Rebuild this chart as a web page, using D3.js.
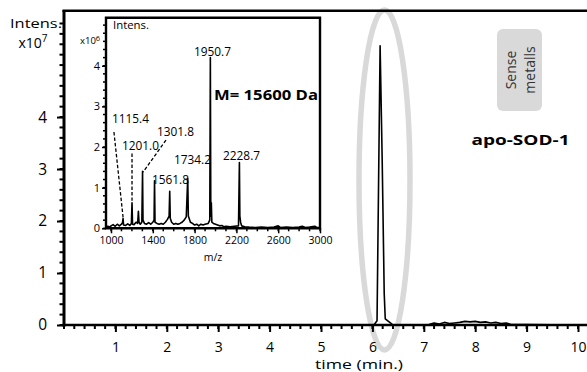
<!DOCTYPE html>
<html>
<head>
<meta charset="utf-8">
<script src="https://cdn.jsdelivr.net/npm/d3@7"></script>
<style>
  html, body { margin: 0; padding: 0; background: #fff; }
  svg { display: block; font-family: "Open Sans", Lato, sans-serif; }
</style>
</head>
<body>
<svg id="chart" width="587" height="372"></svg>
<script>
// ---- Chromatogram (time in min, intensity ×10^7) ----
const chromTime = [0, 1, 2, 3, 4, 5, 5.8, 6.03, 6.09, 6.15, 6.19, 6.23, 6.25, 6.3, 6.35, 6.4, 6.8, 7.1,
  7.2, 7.3, 7.4, 7.5, 7.6, 7.7, 7.8, 7.9, 8.0, 8.1, 8.2, 8.3, 8.4, 8.5, 8.6, 8.7, 9.0, 9.5, 10.2];
const chromIntensity = [0, 0, 0, 0, 0, 0, 0, 0, 0.08, 5.37, 3.2, 0.6, 0.12, 0.08, 0.04, 0, 0, 0.01,
  0.04, 0.02, 0.05, 0.03, 0.04, 0.05, 0.07, 0.06, 0.07, 0.05, 0.06, 0.04, 0.05, 0.03, 0.04, 0.01, 0.01, 0.005, 0];
const timeTicks = [1, 2, 3, 4, 5, 6, 7, 8, 9, 10];
const intensTicks = [0, 1, 2, 3, 4];

// ---- Mass spectrum (m/z, intensity ×10^6) ----
const specMz = [952, 970, 990, 1000, 1020, 1040, 1060, 1080, 1100, 1110, 1115.4, 1120, 1140, 1160, 1180, 1195,
  1201.0, 1206, 1220, 1240, 1255, 1262, 1268, 1280, 1295, 1301.8, 1306, 1320, 1340, 1360, 1380, 1400, 1412,
  1416.5, 1421, 1440, 1460, 1480, 1500, 1520, 1540, 1556, 1561.8, 1567, 1580, 1600, 1620, 1640, 1660, 1680,
  1700, 1720, 1734.2, 1740, 1760, 1780, 1800, 1820, 1840, 1860, 1880, 1900, 1930, 1945, 1950.7, 1955, 1960,
  1965, 1980, 2000, 2020, 2040, 2060, 2080, 2100, 2140, 2180, 2220, 2228.7, 2233, 2240, 2250, 2280, 2320,
  2380, 2440, 2500, 2560, 2600, 2620, 2680, 2740, 2800, 2830, 2860, 2900, 2950, 2970, 3000];
const specIntensity = [0.02, 0.05, 0.03, 0.06, 0.09, 0.05, 0.1, 0.06, 0.1, 0.14, 0.24, 0.08, 0.07, 0.11, 0.07, 0.12,
  0.63, 0.1, 0.09, 0.15, 0.12, 0.42, 0.15, 0.1, 0.15, 1.40, 0.2, 0.12, 0.1, 0.14, 0.1, 0.15, 0.2,
  1.17, 0.15, 0.12, 0.1, 0.12, 0.1, 0.15, 0.22, 0.3, 0.91, 0.25, 0.15, 0.1, 0.12, 0.1, 0.12, 0.15,
  0.2, 0.28, 1.23, 0.3, 0.15, 0.12, 0.08, 0.1, 0.06, 0.1, 0.08, 0.1, 0.12, 0.2, 4.2, 0.3, 0.63,
  0.15, 0.12, 0.1, 0.08, 0.06, 0.07, 0.04, 0.05, 0.04, 0.05, 0.06, 1.62, 0.3, 0.15, 0.06, 0.04, 0.03,
  0.02, 0.03, 0.02, 0.03, 0.06, 0.02, 0.03, 0.02, 0.03, 0.05, 0.02, 0.03, 0.05, 0.02, 0.02];
const mzTicks = [1000, 1400, 1800, 2200, 2600, 3000];
const specTicks = [0, 1, 2, 3, 4];

// Peak annotations: label, label start (m/z, intensity), optional dashed leader (from / to)
const peakLabels = [
  { text: "1115.4", at: [1009, 2.59], from: [1028, 2.37], to: [1115.4, 0.27] },
  { text: "1201.0", at: [1105, 1.93], from: [1201.0, 1.84], to: [1201.0, 0.68] },
  { text: "1301.8", at: [1440, 2.27], from: [1526, 2.17], to: [1306, 1.38] },
  { text: "1561.8", at: [1392, 1.09] },
  { text: "1734.2", at: [1603, 1.58] },
  { text: "1950.7", at: [1794, 4.24] },
  { text: "2228.7", at: [2072, 1.67] }
];

const svg = d3.select("#chart");
const FONT = "'Open Sans', Lato, sans-serif";

// ---------- main chromatogram ----------
const x = d3.scaleLinear().domain([0, 10.175]).range([64, 587]);
const y = d3.scaleLinear().domain([0, 6.04]).range([325, 11]);

// highlight ellipse around the elution peak
svg.append("ellipse")
  .attr("cx", 384.5).attr("cy", 180).attr("rx", 25.5).attr("ry", 170)
  .attr("fill", "none").attr("stroke", "#d9d9d9").attr("stroke-width", 5.5);

// minor + major ticks on the x axis
const xMinor = d3.range(0, 10.2, 0.2);
svg.append("g").selectAll("line").data(xMinor).join("line")
  .attr("x1", d => x(d)).attr("x2", d => x(d))
  .attr("y1", y(0)).attr("y2", y(0) + 4)
  .attr("stroke", "#000").attr("stroke-width", 2);
const xAxis = svg.append("g").attr("transform", `translate(0,${y(0)})`)
  .call(d3.axisBottom(x).tickValues(timeTicks).tickSize(7).tickSizeOuter(0).tickFormat(d3.format("d")));
xAxis.select(".domain").remove();
xAxis.selectAll(".tick line").attr("stroke-width", 2);
xAxis.selectAll(".tick text").attr("font-size", 14).attr("dy", 0).attr("y", 26.5)
  .style("font-family", FONT);

const yMinor = d3.range(0, 6.0, 0.2);
svg.append("g").selectAll("line").data(yMinor).join("line")
  .attr("x1", x(0) - 4.5).attr("x2", x(0))
  .attr("y1", d => y(d)).attr("y2", d => y(d))
  .attr("stroke", "#000").attr("stroke-width", 2);
const yAxis = svg.append("g").attr("transform", `translate(${x(0)},0)`)
  .call(d3.axisLeft(y).tickValues(intensTicks).tickSize(7).tickSizeOuter(0).tickPadding(10).tickFormat(d3.format("d")));
yAxis.select(".domain").remove();
yAxis.selectAll(".tick line").attr("stroke-width", 2);
yAxis.selectAll(".tick text").attr("font-size", 15.5).style("font-family", FONT);

// frame: left axis, bottom axis, top border
svg.append("line").attr("x1", x(0)).attr("x2", x(0)).attr("y1", 10).attr("y2", y(0) + 1.5)
  .attr("stroke", "#000").attr("stroke-width", 3);
svg.append("line").attr("x1", x(0) - 1.5).attr("x2", 587).attr("y1", y(0)).attr("y2", y(0))
  .attr("stroke", "#000").attr("stroke-width", 2.6);
svg.append("line").attr("x1", x(0) - 1.5).attr("x2", 587).attr("y1", 10.8).attr("y2", 10.8)
  .attr("stroke", "#000").attr("stroke-width", 2.6);

// chromatogram trace
const chromLine = d3.line().x((d, i) => x(chromTime[i])).y(d => y(d));
svg.append("path").datum(chromIntensity)
  .attr("d", chromLine)
  .attr("fill", "none").attr("stroke", "#000").attr("stroke-width", 1.6).attr("stroke-linejoin", "round");

// axis titles
svg.append("text").attr("x", 36).attr("y", 28).attr("text-anchor", "middle").attr("font-size", 13.5)
  .attr("textLength", 52).attr("lengthAdjust", "spacingAndGlyphs").text("Intens.");
const yExp = svg.append("text").attr("x", 33).attr("y", 48).attr("text-anchor", "middle").attr("font-size", 14);
yExp.append("tspan").text("x10");
yExp.append("tspan").attr("font-size", 10).attr("dy", -6).text("7");
svg.append("text").attr("x", 359).attr("y", 369).attr("text-anchor", "middle").attr("font-size", 13)
  .attr("textLength", 88).attr("lengthAdjust", "spacingAndGlyphs").text("time (min.)");

// annotations
svg.append("text").attr("x", 520.5).attr("y", 145).attr("text-anchor", "middle")
  .attr("font-size", 15).attr("font-weight", "bold")
  .attr("textLength", 98).attr("lengthAdjust", "spacingAndGlyphs").text("apo-SOD-1");
svg.append("rect").attr("x", 497).attr("y", 29).attr("width", 45).attr("height", 82).attr("rx", 6)
  .attr("fill", "#d9d9d9");
const sense = svg.append("text").attr("transform", "translate(519.5,70) rotate(-90)")
  .attr("text-anchor", "middle").attr("font-size", 14).attr("fill", "#333");
sense.append("tspan").attr("x", 0).attr("y", -4).text("Sense");
sense.append("tspan").attr("x", 0).attr("y", 15).text("metalls");

// ---------- inset mass spectrum ----------
const ix = d3.scaleLinear().domain([952, 3000]).range([106, 320]);
const iy = d3.scaleLinear().domain([0, 5.18]).range([228.3, 17.8]);

svg.append("rect").attr("x", 106).attr("y", 17.8).attr("width", 214).attr("height", 210.5).attr("fill", "#fff");

const ixMinor = d3.range(1000, 3001, 100);
svg.append("g").selectAll("line").data(ixMinor).join("line")
  .attr("x1", d => ix(d)).attr("x2", d => ix(d))
  .attr("y1", iy(0)).attr("y2", iy(0) + 3)
  .attr("stroke", "#000").attr("stroke-width", 1.5);
const ixAxis = svg.append("g").attr("transform", `translate(0,${iy(0)})`)
  .call(d3.axisBottom(ix).tickValues(mzTicks).tickSize(5).tickSizeOuter(0).tickPadding(3).tickFormat(d3.format("d")));
ixAxis.select(".domain").remove();
ixAxis.selectAll(".tick line").attr("stroke-width", 1.5);
ixAxis.selectAll(".tick text").attr("font-size", 10.5).style("font-family", FONT);

const iyMinor = d3.range(0, 5.1, 0.2);
svg.append("g").selectAll("line").data(iyMinor).join("line")
  .attr("x1", ix(952) - 3).attr("x2", ix(952))
  .attr("y1", d => iy(d)).attr("y2", d => iy(d))
  .attr("stroke", "#000").attr("stroke-width", 1.5);
const iyAxis = svg.append("g").attr("transform", `translate(${ix(952)},0)`)
  .call(d3.axisLeft(iy).tickValues(specTicks).tickSize(4).tickSizeOuter(0).tickPadding(2).tickFormat(d3.format("d")));
iyAxis.select(".domain").remove();
iyAxis.selectAll(".tick line").attr("stroke-width", 1.5);
iyAxis.selectAll(".tick text").attr("font-size", 11).style("font-family", FONT);

// spectrum trace
const specLine = d3.line().x((d, i) => ix(specMz[i])).y(d => iy(d));
svg.append("path").datum(specIntensity)
  .attr("d", specLine)
  .attr("fill", "none").attr("stroke", "#000").attr("stroke-width", 1.6).attr("stroke-linejoin", "round");

// inset frame
svg.append("path")
  .attr("d", `M${ix(952)},${iy(0)}V${iy(5.18)}H${ix(3000)}V${iy(0)}Z`)
  .attr("fill", "none").attr("stroke", "#000").attr("stroke-width", 2.4);

// peak labels and dashed leaders
peakLabels.forEach(p => {
  svg.append("text").attr("x", ix(p.at[0])).attr("y", iy(p.at[1]))
    .attr("font-size", 12).attr("textLength", 37).attr("lengthAdjust", "spacingAndGlyphs").text(p.text);
  if (p.from) {
    svg.append("line")
      .attr("x1", ix(p.from[0])).attr("y1", iy(p.from[1]))
      .attr("x2", ix(p.to[0])).attr("y2", iy(p.to[1]))
      .attr("stroke", "#000").attr("stroke-width", 1.3).attr("stroke-dasharray", "3.5,2");
  }
});

svg.append("text").attr("x", 266).attr("y", 100).attr("text-anchor", "middle")
  .attr("font-size", 14.5).attr("font-weight", "bold")
  .attr("textLength", 104).attr("lengthAdjust", "spacingAndGlyphs").text("M= 15600 Da");
svg.append("text").attr("x", 113).attr("y", 29).attr("font-size", 10.5)
  .attr("textLength", 36).attr("lengthAdjust", "spacingAndGlyphs").text("Intens.");
const iExp = svg.append("text").attr("x", 80).attr("y", 44).attr("font-size", 9.5);
iExp.append("tspan").text("x10");
iExp.append("tspan").attr("font-size", 7.5).attr("dy", -3).text("6");
svg.append("text").attr("x", 213).attr("y", 261).attr("text-anchor", "middle").attr("font-size", 10.5).text("m/z");
</script>
</body>
</html>
